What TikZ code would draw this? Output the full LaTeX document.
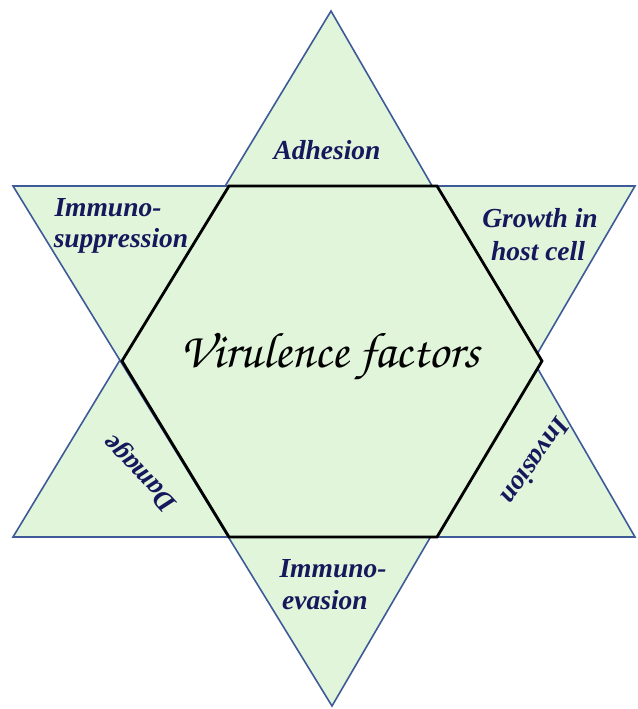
\documentclass[tikz,border=0pt]{standalone}
\usepackage{fontspec}
\setmainfont{Liberation Serif}
\begin{document}
\definecolor{starfill}{HTML}{E0F5DA}
\definecolor{starline}{HTML}{3E5A98}
\definecolor{labelblue}{HTML}{16185C}
\tikzset{
  tri/.style={fill=starfill, draw=starline, line width=1.6pt, line join=miter},
  hexline/.style={draw=black, line width=2.8pt, line join=miter},
  lbl/.style={text=labelblue, font=\fontsize{27.5}{31}\selectfont\bfseries\itshape, inner sep=0pt, align=center},
  title/.style={text=black, inner sep=0pt, font=\fontencoding{T1}\fontfamily{pzc}\fontsize{50}{54}\selectfont}
}
\begin{tikzpicture}[x=1pt, y=-1pt]
  \useasboundingbox (0,0) rectangle (637,709);
  % star corners
  \coordinate (ut) at (331,11);
  \coordinate (ul) at (13,537);
  \coordinate (ur) at (635,537);
  \coordinate (db) at (332,706);
  \coordinate (dl) at (13,186);
  \coordinate (dr) at (635,186);
  % inner hexagon
  \coordinate (h1) at (229,186);
  \coordinate (h2) at (437,186);
  \coordinate (h3) at (542,361);
  \coordinate (h4) at (437,537);
  \coordinate (h5) at (229,537);
  \coordinate (h6) at (122,361);
  % two overlapping triangles
  \path[tri] (ut) -- (ur) -- (ul) -- cycle;
  \path[tri] (dl) -- (dr) -- (db) -- cycle;
  % refill the centre so no outline crosses it
  \fill[starfill] (h1) -- (h2) -- (h3) -- (h4) -- (h5) -- (h6) -- cycle;
  \draw[hexline] (h1) -- (h2) -- (h3) -- (h4) -- (h5) -- (h6) -- cycle;
  % labels
  \node[title] (vf) at (330,357) {Virulence factors};
  \node[lbl] (adh) at (327,150) {Adhesion};
  \node[lbl] (imm1) at (108,208) {Immuno-};
  \node[lbl] (imm2) at (121,241) {suppression};
  \node[lbl] (gro1) at (540,218) {Growth in};
  \node[lbl] (gro2) at (538,251) {host cell};
  \node[lbl, rotate=133] (dam) at (141,472) {Damage};
  \node[lbl, rotate=-125] (inv) at (536,462) {Invasion};
  \node[lbl] (eva1) at (333,569) {Immuno-};
  \node[lbl] (eva2) at (325,600) {evasion};
\end{tikzpicture}
\end{document}
